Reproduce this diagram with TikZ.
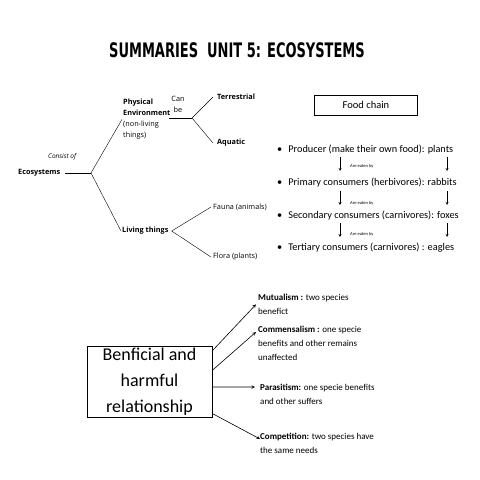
\documentclass[tikz,border=0pt]{standalone}
\usepackage{fontspec}
\usepackage{graphicx}
\setmainfont{Carlito}
\newfontfamily\treefont{Open Sans}
\newfontfamily\titlefont{DejaVu Sans}
\usepackage{tikz}

\begin{document}
\begin{tikzpicture}[x=1pt, y=-1pt, >=stealth, thin,
  tree/.style = {font=\treefont\fontsize{7.3}{11}\selectfont, inner sep=0pt, anchor=west},
  treebf/.style = {tree, font=\treefont\bfseries\fontsize{7.3}{11}\selectfont},
  chain/.style = {font=\fontsize{10.3}{12}\selectfont, inner sep=0pt, anchor=west},
  eaten/.style = {font=\fontsize{4.5}{5}\selectfont, inner sep=0pt, anchor=west},
  rel/.style = {font=\fontsize{9}{14}\selectfont, inner sep=0pt, anchor=north west, align=left},
  arr/.style = {->, semithick}]
\useasboundingbox (0,0) rectangle (480,480);
\node[font=\titlefont\bfseries\fontsize{20}{20}\selectfont] (title) at (237,50) {\scalebox{0.65}[1]{SUMMARIES\ \ UNIT 5: ECOSYSTEMS}};
% ecosystem tree
\node[treebf] (eco) at (18,173) {Ecosystems};
\node[tree, font=\treefont\itshape\fontsize{6.5}{8}\selectfont] (consist) at (48,157) {Consist of};
\coordinate (b0) at (91,173);
\draw ([xshift=5pt]eco.east) -- (b0);
\node[tree, anchor=north west, align=left] (phys) at (123,99) {\textbf{Physical}\\\textbf{Environment}\\(non-living\\things)};
\node[tree, align=center, anchor=center] (canbe) at (178,104) {Can\\be};
\node[treebf] (living) at (122,231) {Living things};
\draw (b0) -- ([xshift=-1pt]phys.west);
\draw (b0) -- ([xshift=-1pt]living.west);
\coordinate (pe) at (169,118);
\coordinate (b1) at (192,118);
\draw (pe) -- (b1);
\node[treebf] (terr) at (217,97) {Terrestrial};
\node[treebf] (aqua) at (217,143) {Aquatic};
\draw (b1) -- ([xshift=-4pt]terr.west);
\draw (b1) -- ([xshift=-4pt]aqua.west);
\node[tree] (fauna) at (213,207) {Fauna (animals)};
\node[tree] (flora) at (213,257) {Flora (plants)};
\draw ([xshift=3pt]living.east) -- ([xshift=-2pt]fauna.west);
\draw ([xshift=3pt]living.east) -- ([xshift=-2pt]flora.west);
% food chain
\node[draw, minimum width=103pt, minimum height=20pt, font=\fontsize{10.5}{12}\selectfont] (fc) at (366,105) {Food chain};
\node[chain] (prod) at (277,150) {•\hspace{6pt}Producer (make their own food): plants};
\node[chain] (prim) at (277,183) {•\hspace{6pt}Primary consumers (herbivores): rabbits};
\node[chain] (sec) at (277,216) {•\hspace{6pt}Secondary consumers (carnivores): foxes};
\node[chain] (tert) at (277,248) {•\hspace{6pt}Tertiary consumers (carnivores) : eagles};
\foreach \t/\l/\i in {157/166/1, 191/203/2, 223/234/3} {
  \coordinate (la\i) at (340,\t);
  \coordinate (lb\i) at (340,\t+14);
  \coordinate (ra\i) at (447,\t);
  \coordinate (rb\i) at (447,\t+14);
  \draw[->] (la\i) -- (lb\i);
  \draw[->] (ra\i) -- (rb\i);
  \node[eaten] (eat\i) at (350,\l) {Are eaten by};
}
% relationships
\node[draw, minimum width=125pt, minimum height=71pt, align=center, inner sep=0pt, font=\fontsize{18}{26}\selectfont] (rel) at (149.5,381.5) {Benficial and\\harmful\\relationship};
\node[rel] (mut) at (258,294) {\textbf{Mutualism :} two species\\benefict};
\node[rel] (comm) at (258,326) {\textbf{Commensalism :} one specie\\benefits and other remains\\unaffected};
\node[rel] (para) at (260,384) {\textbf{Parasitism:} one specie benefits\\and other suffers};
\node[rel] (comp) at (260,433) {\textbf{Competition:} two species have\\the same needs};
\draw[arr] (rel.26) -- ([xshift=-2pt]mut.west);
\draw[arr] (rel.10) -- ([xshift=-2pt,yshift=-6pt]comm.north west);
\draw[arr] (rel.-5) -- ([xshift=-5pt,yshift=-3pt]para.north west);
\draw[arr] (rel.-27) -- ([yshift=-6pt]comp.north west);
\end{tikzpicture}
\end{document}
